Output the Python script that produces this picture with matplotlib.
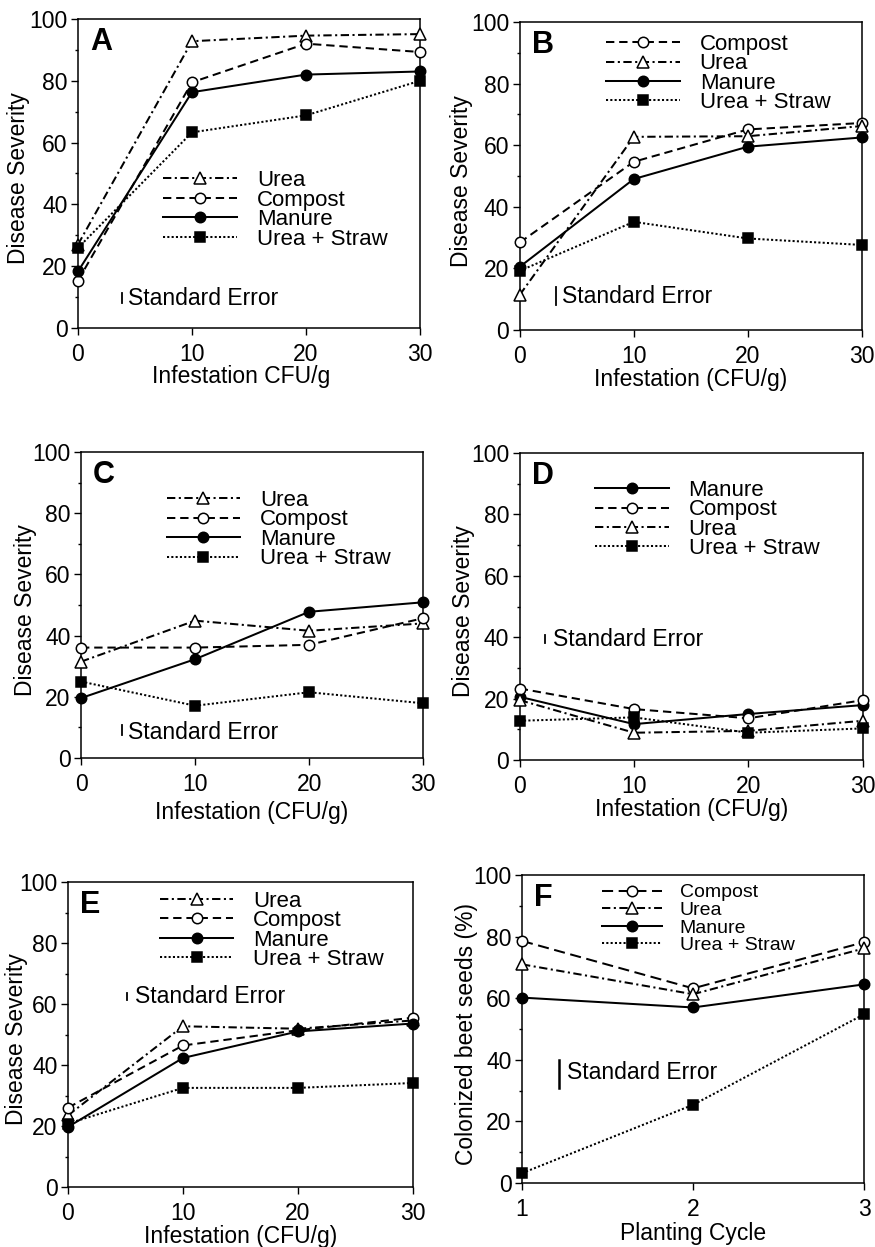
import matplotlib.pyplot as plt

plt.rcParams['font.family'] = ['Liberation Sans', 'DejaVu Sans']
plt.rcParams['lines.scale_dashes'] = False

infestation = [0, 10, 20, 30]
planting_cycle = [1, 2, 3]

# disease severity
a_urea = [27, 92.8, 94.6, 95.1]
a_compost = [15.3, 79.5, 92, 89.3]
a_manure = [18.3, 76.3, 82, 83]
a_straw = [25.9, 63.3, 68.8, 80]

b_compost = [28.4, 54.6, 65.1, 67.2]
b_urea = [11.4, 62.7, 62.9, 66.2]
b_manure = [20.5, 49, 59.5, 62.5]
b_straw = [19.2, 35.1, 29.7, 27.6]

c_urea = [31.5, 44.9, 41.6, 44]
c_compost = [36.1, 36.1, 37, 45.7]
c_manure = [19.6, 32.3, 47.8, 50.9]
c_straw = [25, 17.1, 21.5, 17.9]

d_manure = [20.6, 11.7, 15, 17.9]
d_compost = [23.3, 16.6, 13.6, 19.5]
d_urea = [19.5, 8.9, 9.5, 12.8]
d_straw = [12.8, 13.9, 8.9, 10.3]

e_urea = [23.5, 52.7, 51.9, 54.6]
e_compost = [26, 46.4, 51.4, 55.5]
e_manure = [19.7, 42.3, 51, 53.6]
e_straw = [20.8, 32.5, 32.5, 34.1]

# colonized beet seeds (%)
f_compost = [78.6, 63.2, 78.2]
f_urea = [71, 61.3, 76.2]
f_manure = [60.2, 57, 64.5]
f_straw = [3.2, 25.4, 54.8]

styles = {
    'Urea': dict(ls=(0, (6, 2.5, 1.5, 2.5)), marker='^', mfc='white', ms=8),
    'Compost': dict(ls=(0, (6, 3.5)), marker='o', mfc='white', ms=7.5),
    'Manure': dict(ls='-', marker='o', mfc='black', ms=7.5),
    'Urea + Straw': dict(ls=(0, (1.5, 1.6)), marker='s', mfc='black', ms=7),
}

panels = [
    dict(rect=[0.0891, 0.737, 0.391, 0.2478], letter='A', x=infestation,
         series=[('Urea', a_urea), ('Compost', a_compost), ('Manure', a_manure), ('Urea + Straw', a_straw)],
         xlabel='Infestation CFU/g', ylabel='Disease Severity', ylab_x=-0.14, xlab=(0.477, -0.12),
         leg=(0.25, 0.382), legfs=16, se=(3.9, 8.1, 11.3), setext=(4.4, 9.4)),
    dict(rect=[0.594, 0.7354, 0.391, 0.247], letter='B', x=infestation,
         series=[('Compost', b_compost), ('Urea', b_urea), ('Manure', b_manure), ('Urea + Straw', b_straw)],
         xlabel='Infestation (CFU/g)', ylabel='Disease Severity', ylab_x=-0.137, xlab=(0.5, -0.124),
         leg=(0.253, 0.8325), legfs=16, se=(3.2, 8.1, 14), setext=(3.7, 11)),
    dict(rect=[0.0926, 0.3921, 0.391, 0.2454], letter='C', x=infestation,
         series=[('Urea', c_urea), ('Compost', c_compost), ('Manure', c_manure), ('Urea + Straw', c_straw)],
         xlabel='Infestation (CFU/g)', ylabel='Disease Severity', ylab_x=-0.129, xlab=(0.5, -0.14),
         leg=(0.25, 0.7465), legfs=16, se=(3.6, 7.6, 10.9), setext=(4.1, 8.4)),
    dict(rect=[0.594, 0.3905, 0.392, 0.2462], letter='D', x=infestation,
         series=[('Manure', d_manure), ('Compost', d_compost), ('Urea', d_urea), ('Urea + Straw', d_straw)],
         xlabel='Infestation (CFU/g)', ylabel='Disease Severity', ylab_x=-0.131, xlab=(0.5, -0.124),
         leg=(0.22, 0.7835), legfs=16, se=(2.2, 38, 40.7), setext=(2.9, 39.3)),
    dict(rect=[0.0777, 0.0481, 0.394, 0.2446], letter='E', x=infestation,
         series=[('Urea', e_urea), ('Compost', e_compost), ('Manure', e_manure), ('Urea + Straw', e_straw)],
         xlabel='Infestation (CFU/g)', ylabel='Disease Severity', ylab_x=-0.116, xlab=(0.5, -0.124),
         leg=(0.267, 0.8415), legfs=16, se=(5.1, 61.2, 63.6), setext=(5.8, 62.5)),
    dict(rect=[0.5966, 0.0513, 0.391, 0.247], letter='F', x=planting_cycle,
         series=[('Compost', f_compost), ('Urea', f_urea), ('Manure', f_manure), ('Urea + Straw', f_straw)],
         xlabel='Planting Cycle', ylabel='Colonized beet seeds (%)', ylab_x=-0.129, xlab=(0.5, -0.127),
         leg=(0.2335, 0.857), legfs=14, se=(1.214, 30.8, 40), setext=(1.26, 35.9)),
]

fig = plt.figure(figsize=(8.75, 12.47), dpi=100)

for p in panels:
    ax = fig.add_axes(p['rect'])
    for name, vals in p['series']:
        st = styles[name]
        ax.plot(p['x'], vals, color='black', lw=1.45, ls=st['ls'], marker=st['marker'],
                ms=st['ms'], mfc=st['mfc'], mec='black', mew=1.1, label=name,
                clip_on=False, zorder=3)
    ax.set_ylim(0, 100)
    ax.set_yticks(range(0, 101, 20))
    ax.set_yticks(range(10, 100, 20), minor=True)
    if p['letter'] == 'F':
        ax.set_xlim(1, 3)
        ax.set_xticks(planting_cycle)
        # F uses a longer dash for compost
        ax.lines[0].set_linestyle((0, (8, 4)))
    else:
        ax.set_xlim(0, 30)
        ax.set_xticks(infestation)
    ax.tick_params(which='major', direction='out', length=5, width=1, labelsize=16.5, pad=2.5)
    ax.tick_params(axis='x', which='major', pad=6)
    ax.tick_params(which='minor', direction='out', length=2.5, width=1)
    for s in ax.spines.values():
        s.set_linewidth(1.1)
    ax.set_xlabel(p['xlabel'], fontsize=16.5)
    ax.set_ylabel(p['ylabel'], fontsize=16.5)
    ax.yaxis.set_label_coords(p['ylab_x'], 0.485)
    ax.xaxis.set_label_coords(*p['xlab'])

    ax.text(0.035, 0.925, p['letter'], transform=ax.transAxes, fontsize=22,
            fontweight='bold', ha='left', va='center')

    # standard error bar
    sx, sy0, sy1 = p['se']
    ax.plot([sx, sx], [sy0, sy1], color='black', lw=1.8 if p['letter'] == 'F' else 1.3)
    ax.text(p['setext'][0], p['setext'][1], 'Standard Error', fontsize=16.5,
            ha='left', va='center')

    if p['legfs'] == 16:
        hl, ls = 3.3, -0.07
    else:
        hl, ls = 3.1, 0.0
    ax.legend(loc='center left', bbox_to_anchor=p['leg'], frameon=False,
              fontsize=p['legfs'], handlelength=hl, handletextpad=0.9,
              labelspacing=ls, borderpad=0, borderaxespad=0, numpoints=1)

fig.savefig('out.png', dpi=100)
